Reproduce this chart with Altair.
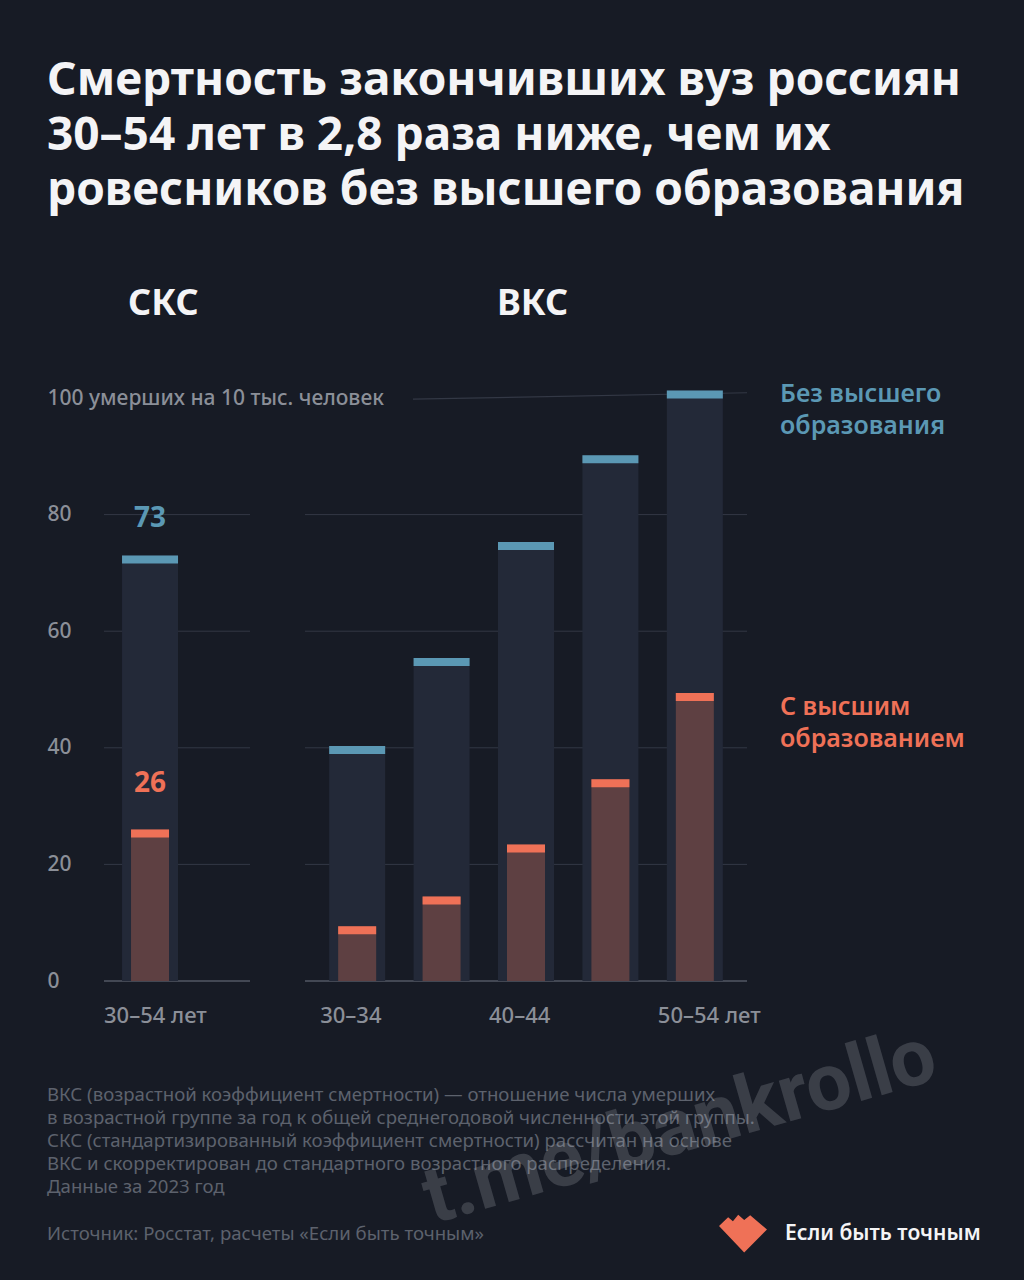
import altair as alt
import pandas as pd

# ---------------- data ----------------
TITLE_LINES = [
    "Смертность закончивших вуз россиян",
    "30–54 лет в 2,8 раза ниже, чем их",
    "ровесников без высшего образования",
]
PANEL_LEFT = "СКС"
PANEL_RIGHT = "ВКС"

SKS_CATS = ["30–54"]
SKS_NO_HIGHER = [73]
SKS_HIGHER = [26]

VKS_CATS = ["30–34", "35–39", "40–44", "45–49", "50–54"]
VKS_NO_HIGHER = [40.3, 55.4, 75.3, 90.2, 101.3]
VKS_HIGHER = [9.4, 14.5, 23.4, 34.6, 49.4]

Y_TICKS = [0, 20, 40, 60, 80, 100]
GRID_VALUES = [20, 40, 60, 80]
BASELINE = [0]
LEADER_Y = [99.8, 100.9]

LEGEND_NO = ["Без высшего", "образования"]
LEGEND_HI = ["С высшим", "образованием"]

NOTES = [
    "ВКС (возрастной коэффициент смертности) — отношение числа умерших",
    "в возрастной группе за год к общей среднегодовой численности этой группы.",
    "СКС (стандартизированный коэффициент смертности) рассчитан на основе",
    "ВКС и скорректирован до стандартного возрастного распределения.",
    "Данные за 2023 год",
]
SOURCE = "Источник: Росстат, расчеты «Если быть точным»"
BRAND = "Если быть точным"
WATERMARK = "t.me/bankrollo"

# ---------------- style ----------------
BG = "#171b25"
BAR_BG = "#232938"
BLUE = "#5b98b4"
ORANGE = "#ef7157"
ORANGE_FILL = "#5e4042"
GRID_C = "#333845"
BASE_C = "#434854"
LABEL_C = "#8b8f98"
NOTE_C = "#5d626d"
FONT = "Noto Sans"

LOGO_PATH = ("M -1 -0.25 L -0.62 -0.62 L -0.42 -0.45 L -0.2 -0.72 L 0.05 -0.5 "
             "L 0.3 -0.7 L 1 -0.1 L 0.05 0.85 Z")

H = 583
y_scale = alt.Scale(domain=[0, 100], nice=False, zero=True)

one = pd.DataFrame({"k": [0]})
sks = pd.DataFrame({"cat": SKS_CATS, "no": SKS_NO_HIGHER, "hi": SKS_HIGHER})
vks = pd.DataFrame({"cat": VKS_CATS, "no": VKS_NO_HIGHER, "hi": VKS_HIGHER})

y_axis_left = alt.Axis(
    values=Y_TICKS, title=None, ticks=False, domain=False, grid=False,
    labelAlign="left", labelPadding=57, labelBaseline="middle",
    labelColor=LABEL_C, labelFontSize=21, labelFontWeight=500, labelFont=FONT, labelOverlap=False,
    labelLimit=500,
    labelExpr="datum.value == 100 ? '100 умерших на 10 тыс. человек' : datum.label",
    zindex=1,
)

x_axis_left = alt.Axis(
    title=None, ticks=False, domain=False, labelAngle=0,
    labelAlign="left", labelOffset=-46, labelPadding=34, labelBaseline="middle",
    labelColor=LABEL_C, labelFontSize=22, labelFontWeight=500, labelFont=FONT, labelLimit=300,
    labelExpr="datum.value + ' лет'", zindex=1,
)
x_axis_right = alt.Axis(
    title=None, ticks=False, domain=False, labelAngle=0,
    labelAlign="left", labelOffset=-37, labelPadding=34, labelBaseline="middle",
    labelColor=LABEL_C, labelFontSize=22, labelFontWeight=500, labelFont=FONT,
    labelOverlap=False, labelLimit=300,
    labelExpr="datum.value == '50–54' ? '50–54 лет' : (datum.value == '30–34' || datum.value == '40–44' ? datum.value : '')",
    zindex=1,
)

xl = alt.X("cat:N", scale=alt.Scale(domain=SKS_CATS, paddingInner=0, paddingOuter=0.293, align=0),
           axis=x_axis_left, sort=None)
xr = alt.X("cat:N", scale=alt.Scale(domain=VKS_CATS, paddingInner=0, paddingOuter=0.118),
           axis=x_axis_right, sort=None)


def yl(field):
    return alt.Y(field, scale=y_scale, axis=y_axis_left)


def yr(field):
    return alt.Y(field, scale=y_scale, axis=None)


def bars(df, x, yf):
    return [
        alt.Chart(df).mark_bar(color=BAR_BG, size=56).encode(x=x, y=yf("no:Q")),
        alt.Chart(df).mark_tick(color=BLUE, size=56, thickness=8, yOffset=4, opacity=1).encode(x=x, y=yf("no:Q")),
        alt.Chart(df).mark_bar(color=ORANGE_FILL, size=38).encode(x=x, y=yf("hi:Q")),
        alt.Chart(df).mark_tick(color=ORANGE, size=38, thickness=8, yOffset=4, opacity=1).encode(x=x, y=yf("hi:Q")),
    ]


# ---------------- left panel ----------------
bg = alt.Chart(one).mark_rect(color=BG).encode(
    x=alt.value(-104), x2=alt.value(920), y=alt.value(-398), y2=alt.value(882))

grid_l = alt.Chart(pd.DataFrame({"v": GRID_VALUES})).mark_rule(color=GRID_C, strokeWidth=1).encode(y=yl("v:Q"))
base_l = alt.Chart(pd.DataFrame({"v": BASELINE})).mark_rule(color=BASE_C, strokeWidth=2).encode(y=yl("v:Q"))

title = alt.Chart(one).mark_text(
    align="left", baseline="alphabetic", fontSize=46, fontWeight="bold", font=FONT,
    color="#f4f4f6", lineHeight=55,
).encode(x=alt.value(-57), y=alt.value(-303), text=alt.value(TITLE_LINES))

panel_l = alt.Chart(one).mark_text(
    align="left", baseline="alphabetic", fontSize=36, fontWeight="bold", font=FONT, color="#f4f4f6",
).encode(x=alt.value(24), y=alt.value(-83), text=alt.value(PANEL_LEFT))

lab_no = alt.Chart(sks).mark_text(color=BLUE, fontSize=28, fontWeight="bold", font=FONT,
                                  dy=-36, baseline="middle").encode(
    x=xl, y=yl("no:Q"), text=alt.Text("no:Q", format="d"))
lab_hi = alt.Chart(sks).mark_text(color=ORANGE, fontSize=28, fontWeight="bold", font=FONT,
                                  dy=-45, baseline="middle").encode(
    x=xl, y=yl("hi:Q"), text=alt.Text("hi:Q", format="d"))

notes = alt.Chart(one).mark_text(
    align="left", baseline="alphabetic", fontSize=18.6, font=FONT, color=NOTE_C, lineHeight=23,
).encode(x=alt.value(-57), y=alt.value(703), text=alt.value(NOTES))
source = alt.Chart(one).mark_text(
    align="left", baseline="alphabetic", fontSize=18.6, font=FONT, color=NOTE_C,
).encode(x=alt.value(-57), y=alt.value(842), text=alt.value(SOURCE))

left = alt.layer(
    bg, grid_l, base_l, *bars(sks, xl, yl), lab_no, lab_hi, title, panel_l, notes, source
).properties(width=146, height=H)

# ---------------- right panel ----------------
grid_r = alt.Chart(pd.DataFrame({"v": GRID_VALUES})).mark_rule(color=GRID_C, strokeWidth=1).encode(y=yr("v:Q"))
base_r = alt.Chart(pd.DataFrame({"v": BASELINE})).mark_rule(color=BASE_C, strokeWidth=2).encode(y=yr("v:Q"))
leader = alt.Chart(pd.DataFrame({"a": [LEADER_Y[0]], "b": [LEADER_Y[1]]})).mark_rule(
    color=GRID_C, strokeWidth=1.2).encode(
    x=alt.value(108), x2=alt.value(442), y=yr("a:Q"), y2=alt.Y2("b:Q"))

panel_r = alt.Chart(one).mark_text(
    align="left", baseline="alphabetic", fontSize=36, fontWeight="bold", font=FONT, color="#f4f4f6",
).encode(x=alt.value(192), y=alt.value(-83), text=alt.value(PANEL_RIGHT))

leg_no = alt.Chart(one).mark_text(
    align="left", baseline="alphabetic", fontSize=25, fontWeight=600, font=FONT, color=BLUE, lineHeight=32,
).encode(x=alt.value(475), y=alt.value(4), text=alt.value(LEGEND_NO))
leg_hi = alt.Chart(one).mark_text(
    align="left", baseline="alphabetic", fontSize=25, fontWeight=600, font=FONT, color=ORANGE, lineHeight=32,
).encode(x=alt.value(475), y=alt.value(317), text=alt.value(LEGEND_HI))

logo = alt.Chart(one).mark_point(shape=LOGO_PATH, filled=True, color=ORANGE, opacity=1, size=2300).encode(
    x=alt.value(438), y=alt.value(834))
brand = alt.Chart(one).mark_text(
    align="left", baseline="alphabetic", fontSize=21, fontWeight=600, font=FONT, color="#f4f4f6",
).encode(x=alt.value(480), y=alt.value(842), text=alt.value(BRAND))

wm = alt.Chart(one).mark_text(
    align="center", baseline="middle", fontSize=80, fontWeight="bold",
    font="Roboto",
    color="#c4c8d0", opacity=0.2, angle=344,
).encode(x=alt.value(375), y=alt.value(730), text=alt.value(WATERMARK))

right = alt.layer(
    grid_r, base_r, leader, *bars(vks, xr, yr), panel_r, leg_no, leg_hi, logo, brand, wm
).properties(width=442, height=H)

chart = alt.hconcat(left, right, spacing=55, bounds="flush").properties(
    padding=0
).configure(background=BG, font=FONT).configure_view(stroke=None)

chart.save("out.html", embed_options={"renderer": "svg", "actions": False})
